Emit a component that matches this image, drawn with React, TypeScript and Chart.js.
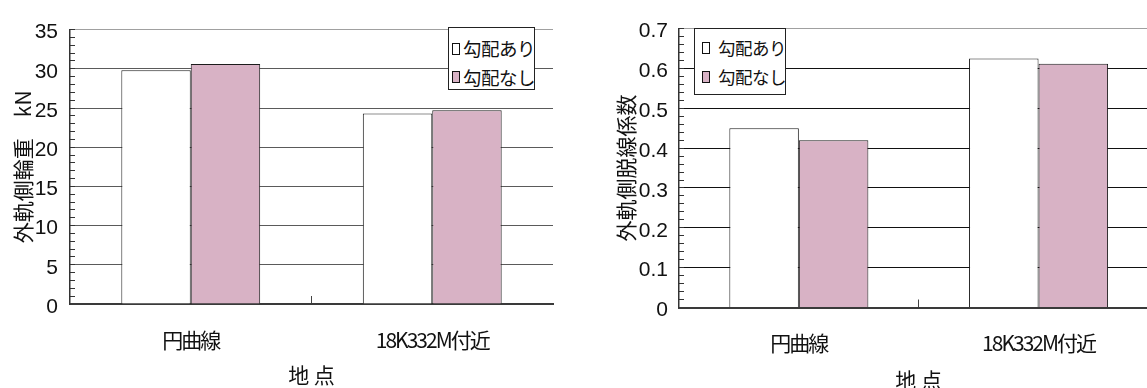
import { useEffect, useRef } from 'react';
import { Chart, registerables } from 'chart.js';

Chart.register(...registerables);

// Measurement sites (category axis)
const sites = ['円曲線', '18K332M付近'];
// Series: with / without track gradient
const seriesNames = ['勾配あり', '勾配なし'];

// Outer-rail wheel load, kN
const wheelLoadWithGrade = [29.8, 24.3];
const wheelLoadNoGrade = [30.6, 24.7];

// Outer-rail derailment coefficient
const derailWithGrade = [0.45, 0.625];
const derailNoGrade = [0.42, 0.612];

// Value axis ranges and tick steps
const loadAxis = { max: 35, major: 5, minor: 1, decimals: 0 };
const derailAxis = { max: 0.7, major: 0.1, minor: 0.02, decimals: 1 };

const xTitle = '地 点';
const loadTitle = '外軌側輪重　kN';
const derailTitle = '外軌側脱線係数';

const WHITE = '#ffffff';
const PINK = '#d8b2c5';
const EDGE = '#1c1c1c';
const CJK = '"Noto Sans CJK JP", "Noto Sans CJK SC", sans-serif';
const NUM = '"Liberation Sans", Arial, sans-serif';

type Axis = { max: number; major: number; minor: number; decimals: number };

type Panel = {
  a: number[];
  b: number[];
  axis: Axis;
  yTitle: string;
  canvasW: number;
  canvasH: number;
  area: { left: number; right: number; top: number; bottom: number };
  gridColor: string;
  yTickPad: number;
  yTitlePad: number;
  xTickPad: number;
  xTitlePad: number;
  catPct: number;
};

function isMajor(v: number, axis: Axis) {
  const r = v / axis.major;
  return Math.abs(r - Math.round(r)) < 1e-6;
}

// Category labels are drawn after the bars (ticks.z = 1) in a tighter,
// condensed spacing; the spacing is reset once the frame is finished.
const condensedCategoryLabels = {
  id: 'condensedCategoryLabels',
  afterDatasetsDraw(chart: any) {
    chart.ctx.letterSpacing = '-2px';
  },
  afterDraw(chart: any) {
    chart.ctx.letterSpacing = '0px';
  },
};

function BarPanel({ p, left }: { p: Panel; left: number }) {
  const ref = useRef<HTMLCanvasElement | null>(null);

  useEffect(() => {
    if (!ref.current) return;
    const { axis, area } = p;
    const chart = new Chart(ref.current, {
      type: 'bar',
      data: {
        labels: sites,
        datasets: [
          {
            label: seriesNames[0],
            data: p.a,
            backgroundColor: WHITE,
            borderColor: EDGE,
            borderWidth: 1,
            categoryPercentage: p.catPct,
            barPercentage: 1,
          },
          {
            label: seriesNames[1],
            data: p.b,
            backgroundColor: PINK,
            borderColor: EDGE,
            borderWidth: 1,
            categoryPercentage: p.catPct,
            barPercentage: 1,
          },
        ],
      },
      plugins: [condensedCategoryLabels],
      options: {
        responsive: false,
        animation: false,
        devicePixelRatio: 1,
        layout: {
          padding: { left: 0, top: area.top, right: p.canvasW - area.right, bottom: 0 },
        },
        plugins: { legend: { display: false }, tooltip: { enabled: false } },
        scales: {
          x: {
            afterFit: (s: any) => {
              s.height = p.canvasH - area.bottom;
            },
            border: { display: true, color: '#3a3a3a', width: 2 },
            grid: {
              offset: true,
              drawOnChartArea: false,
              tickLength: -8,
              tickWidth: 1,
              tickColor: (ctx: any) => (ctx.index === 1 ? '#444' : 'transparent'),
            },
            ticks: {
              z: 1,
              padding: p.xTickPad,
              maxRotation: 0,
              autoSkip: false,
              color: '#111',
              font: { family: CJK, size: 21 },
            },
            title: {
              display: true,
              text: xTitle,
              color: '#111',
              font: { family: CJK, size: 21 },
              padding: { top: 0, bottom: p.xTitlePad },
            },
          },
          y: {
            min: 0,
            max: axis.max,
            afterFit: (s: any) => {
              s.width = area.left;
            },
            border: { display: true, color: '#333', width: 1.5 },
            grid: {
              lineWidth: 1,
              color: (ctx: any) => {
                const v = ctx.tick ? ctx.tick.value : null;
                if (v == null || v === 0) return 'transparent';
                if (Math.abs(v - axis.max) < 1e-9) return '#a0a0a0';
                return isMajor(v, axis) ? p.gridColor : 'transparent';
              },
              tickColor: '#333',
              tickLength: -5,
              tickWidth: 1,
            },
            ticks: {
              stepSize: axis.minor,
              maxTicksLimit: 200,
              autoSkip: false,
              padding: p.yTickPad,
              labelOffset: 3,
              color: '#111',
              font: { family: NUM, size: 21 },
              callback: (v: any) => {
                const n = Number(v);
                if (!isMajor(n, axis)) return '';
                return n === 0 ? '0' : n.toFixed(axis.decimals);
              },
            },
            title: {
              display: true,
              text: p.yTitle,
              color: '#111',
              font: { family: CJK, size: 21 },
              padding: { top: p.yTitlePad, bottom: 0 },
            },
          },
        },
      },
    });
    return () => chart.destroy();
  }, [p]);

  return (
    <canvas
      ref={ref}
      width={p.canvasW}
      height={p.canvasH}
      style={{ position: 'absolute', left, top: 0, width: p.canvasW, height: p.canvasH }}
    />
  );
}

type LegendBox = {
  left: number;
  top: number;
  width: number;
  height: number;
  swatchX: number;
  textX: number;
  rows: number[];
  fontSize: number;
};

function Legend({ box }: { box: LegendBox }) {
  const fills = [WHITE, PINK];
  return (
    <div
      style={{
        position: 'absolute',
        left: box.left,
        top: box.top,
        width: box.width,
        height: box.height,
        boxSizing: 'border-box',
        border: '1px solid #222',
        background: '#fff',
        overflow: 'hidden',
        fontFamily: CJK,
        fontSize: box.fontSize,
        color: '#111',
      }}
    >
      {seriesNames.map((name, i) => (
        <div key={name}>
          <div
            style={{
              position: 'absolute',
              left: box.swatchX,
              top: box.rows[i] - 6,
              width: 8,
              height: 12,
              boxSizing: 'border-box',
              border: '1px solid #111',
              background: fills[i],
            }}
          />
          <div
            style={{
              position: 'absolute',
              left: box.textX,
              top: box.rows[i] - box.fontSize * 0.72,
              lineHeight: `${box.fontSize * 1.44}px`,
              whiteSpace: 'nowrap',
              letterSpacing: '-0.5px',
            }}
          >
            {name}
          </div>
        </div>
      ))}
    </div>
  );
}

const loadPanel: Panel = {
  a: wheelLoadWithGrade,
  b: wheelLoadNoGrade,
  axis: loadAxis,
  yTitle: loadTitle,
  canvasW: 560,
  canvasH: 388,
  area: { left: 70, right: 553, top: 21.5, bottom: 304 },
  gridColor: '#5a5a5a',
  yTickPad: 17,
  yTitlePad: 10.4,
  xTickPad: 31.4,
  xTitlePad: 0.4,
  catPct: 0.575,
};

const derailPanel: Panel = {
  a: derailWithGrade,
  b: derailNoGrade,
  axis: derailAxis,
  yTitle: derailTitle,
  canvasW: 600,
  canvasH: 400,
  area: { left: 99, right: 578.4, top: 21.5, bottom: 307.5 },
  gridColor: '#111111',
  yTickPad: 16,
  yTitlePad: 33.4,
  xTickPad: 30.9,
  xTitlePad: 7.4,
  catPct: 0.58,
};

const loadLegend: LegendBox = {
  left: 448,
  top: 27,
  width: 87,
  height: 63,
  swatchX: 3,
  textX: 14,
  rows: [20.5, 49],
  fontSize: 18.5,
};

const derailLegend: LegendBox = {
  left: 694,
  top: 28,
  width: 92,
  height: 67,
  swatchX: 7,
  textX: 23,
  rows: [18.5, 47.5],
  fontSize: 17.5,
};

export default function App() {
  return (
    <div
      style={{
        position: 'absolute',
        left: 0,
        top: 0,
        width: 1147,
        height: 388,
        overflow: 'hidden',
        background: '#fff',
      }}
    >
      <BarPanel p={loadPanel} left={0} />
      <BarPanel p={derailPanel} left={580} />
      <Legend box={loadLegend} />
      <Legend box={derailLegend} />
    </div>
  );
}
